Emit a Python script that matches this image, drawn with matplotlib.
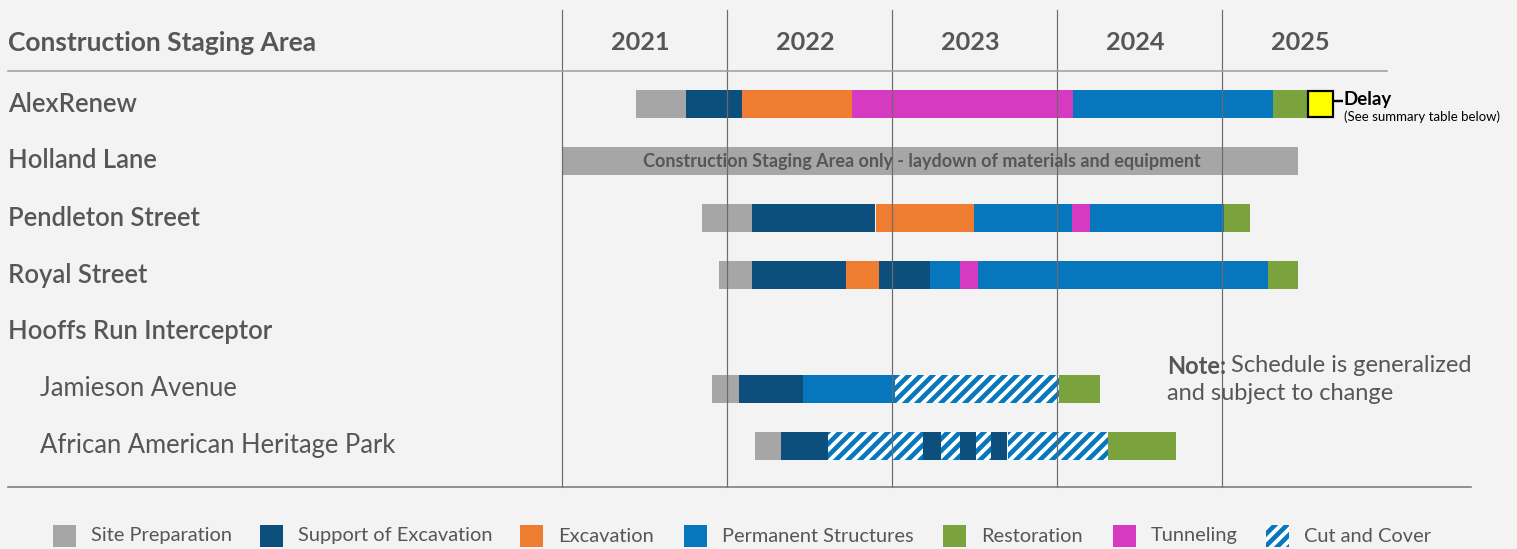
import matplotlib
matplotlib.use("Agg")
import matplotlib.pyplot as plt

DPI = 144
W_PX, H_PX = 1517, 549

plt.rcParams["font.family"] = ["Lato", "DejaVu Sans"]
plt.rcParams["hatch.linewidth"] = 2.3

BG = "#f3f3f3"
TEXT = "#565656"

# ---- data -------------------------------------------------------------
years = [2021, 2022, 2023, 2024, 2025]
rows = ["AlexRenew", "Holland Lane", "Pendleton Street", "Royal Street",
        "Hooffs Run Interceptor", "Jamieson Avenue",
        "African American Heritage Park"]
row_is_sub = [False, False, False, False, False, True, True]

phases = ["Site Preparation", "Support of Excavation", "Excavation",
          "Permanent Structures", "Restoration", "Tunneling", "Cut and Cover"]
phase_colors = ["#a6a6a6", "#0d4f7c", "#ee7d31", "#0777bd",
                "#7ba33d", "#d63ac0", "#0777bd"]

# schedule segments: (phase, start, end) in fractional years
alexrenew = [("Site Preparation", 2021.45, 2021.75),
             ("Support of Excavation", 2021.75, 2022.09),
             ("Excavation", 2022.09, 2022.76),
             ("Tunneling", 2022.76, 2024.10),
             ("Permanent Structures", 2024.10, 2025.31),
             ("Restoration", 2025.31, 2025.52)]
alexrenew_delay = (2025.52, 2025.67)

holland_lane = [("Site Preparation", 2021.00, 2025.46)]
holland_note = "Construction Staging Area only - laydown of materials and equipment"

pendleton = [("Site Preparation", 2021.85, 2022.15),
             ("Support of Excavation", 2022.15, 2022.90),
             ("Excavation", 2022.90, 2023.50),
             ("Permanent Structures", 2023.50, 2024.09),
             ("Tunneling", 2024.09, 2024.20),
             ("Permanent Structures", 2024.20, 2025.01),
             ("Restoration", 2025.01, 2025.17)]

royal = [("Site Preparation", 2021.95, 2022.15),
         ("Support of Excavation", 2022.15, 2022.72),
         ("Excavation", 2022.72, 2022.92),
         ("Support of Excavation", 2022.92, 2023.23),
         ("Permanent Structures", 2023.23, 2023.41),
         ("Tunneling", 2023.41, 2023.52),
         ("Permanent Structures", 2023.52, 2025.28),
         ("Restoration", 2025.28, 2025.46)]

hooffs_run = []

jamieson = [("Site Preparation", 2021.91, 2022.07),
            ("Support of Excavation", 2022.07, 2022.46),
            ("Permanent Structures", 2022.46, 2023.02),
            ("Cut and Cover", 2023.02, 2024.01),
            ("Restoration", 2024.01, 2024.26)]

heritage_park = [("Site Preparation", 2022.17, 2022.33),
                 ("Support of Excavation", 2022.33, 2022.61),
                 ("Cut and Cover", 2022.61, 2023.19),
                 ("Support of Excavation", 2023.19, 2023.30),
                 ("Cut and Cover", 2023.30, 2023.41),
                 ("Support of Excavation", 2023.41, 2023.51),
                 ("Cut and Cover", 2023.51, 2023.60),
                 ("Support of Excavation", 2023.60, 2023.70),
                 ("Cut and Cover", 2023.70, 2024.31),
                 ("Restoration", 2024.31, 2024.72)]

schedule = [alexrenew, holland_lane, pendleton, royal, hooffs_run,
            jamieson, heritage_park]

# ---- layout -----------------------------------------------------------
PX_PER_YEAR = 165.0
X0_PX = 562.0          # left edge of 2021 column
ROW0_PX = 104.0        # centre of first row
ROW_PX = 57.0          # row pitch
BAR_H = 28.0 / ROW_PX
HATCH = "////"

fig = plt.figure(figsize=(W_PX / DPI, H_PX / DPI), dpi=DPI, facecolor=BG)
ax = fig.add_axes([0, 0, 1, 1])
ax.set_facecolor(BG)
ax.set_xlim(years[0] - X0_PX / PX_PER_YEAR,
            years[0] + (W_PX - X0_PX) / PX_PER_YEAR)
ax.set_ylim((H_PX - ROW0_PX) / ROW_PX, -ROW0_PX / ROW_PX)
ax.axis("off")


def fx(px):
    return px / W_PX


def fy(py):
    return 1 - py / H_PX


color_of = dict(zip(phases, phase_colors))

for i, segs in enumerate(schedule):
    for phase, start, end in segs:
        if phase == "Cut and Cover":
            ax.barh(i, end - start, left=start, height=BAR_H,
                    facecolor="white", edgecolor=color_of[phase],
                    hatch=HATCH, linewidth=0, zorder=2)
        else:
            ax.barh(i, end - start, left=start, height=BAR_H,
                    color=color_of[phase], linewidth=0, zorder=2)

# Holland Lane caption across its bar
hl_start, hl_end = holland_lane[0][1], holland_lane[0][2]
ax.text((hl_start + hl_end) / 2 - 0.05, 1, holland_note, ha="center",
        va="center", fontsize=9.0, fontweight="bold", color=TEXT, zorder=4)

# delay marker on AlexRenew
d0, d1 = alexrenew_delay
ax.barh(0, d1 - d0, left=d0, height=BAR_H * 0.93, color="#ffff00",
        edgecolor="black", linewidth=1.1, zorder=4)
ax.plot([d1, d1 + 10 / PX_PER_YEAR], [-0.06, -0.06], color="black",
        lw=1.2, zorder=4, solid_capstyle="butt")
ax.text(d1 + 11 / PX_PER_YEAR, -0.08, "Delay", ha="left", va="center",
        fontsize=9.3, fontweight="bold", color="black")
ax.text(d1 + 11 / PX_PER_YEAR, 0.23, "(See summary table below)",
        ha="left", va="center", fontsize=6.6, color="black")

# year grid lines (drawn over bars)
for y in years:
    ax.plot([y, y], [-(ROW0_PX - 10) / ROW_PX, (487 - ROW0_PX) / ROW_PX],
            color="#6b6b6b", lw=0.6, zorder=3)

# header
fig.text(fx(8), fy(43), "Construction Staging Area", ha="left", va="center",
         fontsize=13.2, fontweight="bold", color=TEXT)
for y in years:
    ax.text(y + 0.5 - 4 / PX_PER_YEAR, -(ROW0_PX - 43) / ROW_PX, str(y),
            ha="center", va="center", fontsize=12.6, fontweight="bold",
            color=TEXT)
fig.add_artist(plt.Line2D([fx(8), fx(1387)], [fy(71), fy(71)],
                          color="#a0a0a0", lw=0.8))
fig.add_artist(plt.Line2D([fx(8), fx(1471)], [fy(487), fy(487)],
                          color="#7a7a7a", lw=0.8))

# row labels
for i, (name, sub) in enumerate(zip(rows, row_is_sub)):
    ax.text(years[0] - (X0_PX - (40 if sub else 8)) / PX_PER_YEAR, i, name,
            ha="left", va="center", fontsize=12.8,
            fontweight="normal" if sub else "semibold", color=TEXT)

# note
note = fig.text(fx(1167), fy(366), "Note:", ha="left", va="center",
                fontsize=11.8, fontweight="bold", color=TEXT)
fig.canvas.draw()
bb = note.get_window_extent()
fig.text(bb.x1 / (DPI * fig.get_figwidth()) + fx(5), fy(366),
         "Schedule is generalized", ha="left", va="center",
         fontsize=11.8, color=TEXT)
fig.text(fx(1167), fy(393), "and subject to change", ha="left",
         va="center", fontsize=11.8, color=TEXT)

# legend
legend_x = [53, 260, 520, 684, 943, 1113, 1266]
for px, name, col in zip(legend_x, phases, phase_colors):
    hatched = name == "Cut and Cover"
    patch = plt.Rectangle((fx(px), fy(547)), fx(23), 22 / H_PX,
                          transform=fig.transFigure,
                          facecolor="white" if hatched else col,
                          edgecolor=col if hatched else "none",
                          hatch=HATCH if hatched else None, linewidth=0)
    fig.add_artist(patch)
    fig.text(fx(px + 38), fy(536), name, ha="left", va="center",
             fontsize=10.0, color=TEXT)

fig.savefig("out.png", dpi=DPI, facecolor=BG)
